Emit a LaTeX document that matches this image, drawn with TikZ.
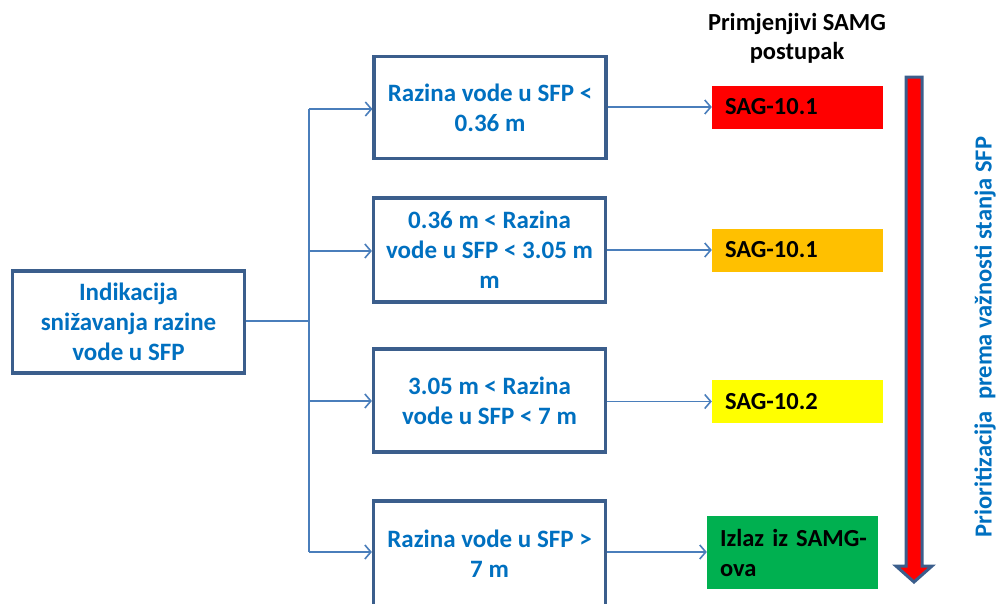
\documentclass[tikz,border=0pt]{standalone}
\usepackage{fontspec}
\setmainfont{Carlito}
\usetikzlibrary{arrows.meta}
\definecolor{txtblue}{HTML}{0070C0}
\definecolor{lineblue}{HTML}{4A7EBB}
\definecolor{boxborder}{HTML}{3B5E8C}
\definecolor{sagred}{HTML}{FF0000}
\definecolor{sagorange}{HTML}{FFC000}
\definecolor{sagyellow}{HTML}{FFFF00}
\definecolor{saggreen}{HTML}{00B050}
\tikzset{
  condbox/.style={draw=boxborder, line width=3.2pt, fill=white, minimum width=232pt, minimum height=102pt,
    inner sep=0pt, align=center, text=txtblue, font=\fontsize{25}{30}\selectfont\bfseries},
  sagbox/.style={minimum width=171pt, minimum height=43pt, inner sep=0pt, text width=145pt, align=left,
    font=\fontsize{24.5}{30}\selectfont\bfseries, text=black},
  conn/.style={draw=lineblue, line width=1.8pt},
  arr/.style={conn, -{Straight Barb[length=6pt,width=14pt,line width=1.6pt]}}
}
\begin{document}
\begin{tikzpicture}[x=1pt,y=-1pt]
\useasboundingbox (0,0) rectangle (998,603);
\clip (0,0) rectangle (998,603);
% header
\node[font=\fontsize{24.5}{29}\selectfont\bfseries, align=center] (hdr) at (797,38) {Primjenjivi SAMG\\postupak};
% left box
\node[condbox] (L) at (128.5,322) {Indikacija\\sni\v{z}avanja razine\\vode u SFP};
% condition boxes
\node[condbox] (c1) at (490,107.5) {Razina vode u SFP <\\0.36 m};
\node[condbox, minimum height=104pt] (c2) at (489.5,250) {0.36 m < Razina\\vode u SFP < 3.05 m\\m};
\node[condbox, minimum height=103pt] (c3) at (489.5,400.5) {3.05 m < Razina\\vode u SFP < 7 m};
\node[condbox, minimum height=106pt] (c4) at (489.5,554) {Razina vode u SFP >\\7 m};
% SAG boxes
\node[sagbox, fill=sagred] (s1) at (797.5,107) {SAG-10.1};
\node[sagbox, fill=sagorange] (s2) at (797.5,250) {SAG-10.1};
\node[sagbox, fill=sagyellow] (s3) at (797.5,401.5) {SAG-10.2};
\node[sagbox, fill=saggreen, minimum height=73pt, text width=145pt] (s4) at (792.5,552.5)
  {\mbox{Izlaz iz SAMG-}\\\mbox{ova}};
% trunk
\coordinate (t0) at (309,321);
\coordinate (t1) at (309,109);
\coordinate (t2) at (309,251);
\coordinate (t3) at (309,401);
\coordinate (t4) at (309,552);
\draw[conn] (L.east |- t0) -- (t0);
\draw[conn] (t1) -- (t4);
\draw[arr] (t1) -- (c1.west |- t1);
\draw[arr] (t2) -- (c2.west |- t2);
\draw[arr] (t3) -- (c3.west |- t3);
\draw[arr] (t4) -- (c4.west |- t4);
\draw[arr] (c1.east |- s1.west) -- (s1.west);
\draw[arr] (c2.east |- s2.west) -- (s2.west);
\draw[arr] (c3.east |- s3.west) -- (s3.west);
\draw[arr] (c4.east |- t4) -- (s4.west |- t4);
% big priority arrow
\draw[draw=boxborder, line width=3pt, fill=sagred, line join=miter]
  (906,77) -- (922,77) -- (922,566) -- (932,566) -- (914,582) -- (896,566) -- (906,566) -- cycle;
% vertical label
\node[rotate=90, text=txtblue, font=\fontsize{24.5}{28}\selectfont\bfseries] (lab) at (985,337) {Prioritizacija\ \ prema va\v{z}nosti stanja SFP};
\end{tikzpicture}
\end{document}
